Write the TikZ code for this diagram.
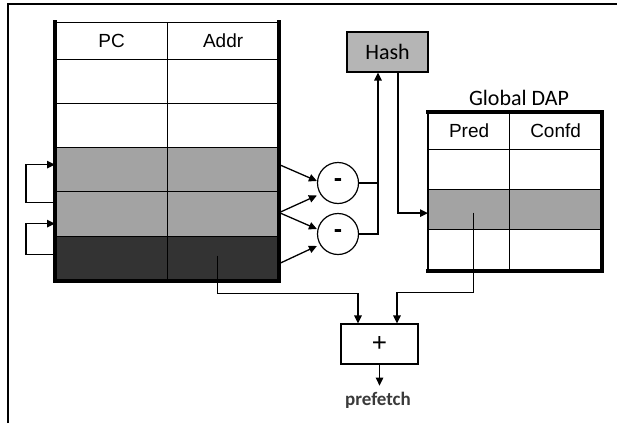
\documentclass[tikz,border=0pt]{standalone}
\usepackage{fontspec}
\setmainfont{Liberation Sans}
\newfontfamily\calfont{Carlito}
\usetikzlibrary{arrows.meta,calc}
\definecolor{rowlight}{HTML}{A3A3A3}
\definecolor{rowdark}{HTML}{333333}
\definecolor{hashfill}{HTML}{B5B5B5}
\definecolor{labelgray}{HTML}{3A3A3A}

\begin{document}
\begin{tikzpicture}[x=1pt,y=-1pt,
  cell/.style={draw, line width=1.2pt, inner sep=0pt, anchor=north west,
    font=\fontsize{19}{22}\selectfont},
  lw/.style={minimum width=112pt},
  rw/.style={minimum width=111pt},
  hd/.style={minimum height=37pt},
  rh/.style={minimum height=44pt},
  light/.style={fill=rowlight},
  dark/.style={fill=rowdark},
  border/.style={line width=3.5pt, line cap=rect},
  sub/.style={circle, draw, line width=1.2pt, minimum size=41pt, inner sep=0pt,
    font=\fontsize{25}{26}\selectfont\bfseries},
  wire/.style={line width=1.3pt},
  arr/.style={wire, -{Triangle[length=8pt,width=7.5pt]}},
]
\useasboundingbox (0,0) rectangle (617,423);

% frame edges
\draw[line width=2.5pt] (8,423) -- (8,4) -- (617,4);

% per-entry history table
\node[cell,lw,hd] (L01) at (55,22) {PC};
\node[cell,rw,hd] (L02) at (167,22) {Addr};
\node[cell,lw,rh] (L11) at (55,59) {};
\node[cell,rw,rh] (L12) at (167,59) {};
\node[cell,lw,rh] (L21) at (55,103) {};
\node[cell,rw,rh] (L22) at (167,103) {};
\node[cell,lw,rh,light] (L31) at (55,147) {};
\node[cell,rw,rh,light] (L32) at (167,147) {};
\node[cell,lw,minimum height=45pt,light] (L41) at (55,191) {};
\node[cell,rw,minimum height=45pt,light] (L42) at (167,191) {};
\node[cell,lw,rh,dark] (L51) at (55,236) {};
\node[cell,rw,rh,dark] (L52) at (167,236) {};
\draw[border] (L01.north west) -- (L51.south west) -- (L52.south east) -- (L02.north east);

% feedback loops on the left
\draw[arr] ([yshift=11.5pt]L41.west) -- ++(-29,0) |- ([yshift=5pt]L31.west);
\draw[arr] ([yshift=4pt]L51.west) -- ++(-29,0) |- ([yshift=-9.5pt]L41.west);

% subtractors
\node[sub] (C1) at (338,183) {-};
\node[sub] (C2) at (338,234) {-};
\draw[arr] ([yshift=5pt]L32.east) -- ([yshift=2pt]C1.west);
\draw[arr] ([yshift=1.5pt]L42.east) -- ([yshift=-12.5pt]C1.west);
\draw[arr] ([yshift=1.5pt]L42.east) -- ([yshift=5pt]C2.west);
\draw[arr] ([yshift=-5pt]L52.east) -- ([yshift=-12pt]C2.west);

% hash unit
\node[draw, line width=1.2pt, fill=hashfill, minimum width=81pt, minimum height=40pt,
  inner sep=0pt, font=\calfont\fontsize{22}{24}\selectfont] (H) at (387.5,52) {Hash};
\coordinate (Hin) at ([xshift=-9.5pt]H.south);
\draw[wire] (C1.east) -- (C1.east -| Hin);
\draw[arr] (C2.east) -| (Hin);

% global DAP table
\node[font=\calfont\fontsize{22}{24}\selectfont] (GT) at (519,98) {Global DAP};
\node[cell,minimum width=81pt,hd] (D01) at (428,112) {Pred};
\node[cell,minimum width=92pt,hd] (D02) at (509,112) {Confd};
\node[cell,minimum width=81pt,minimum height=40pt] (D11) at (428,149) {};
\node[cell,minimum width=92pt,minimum height=40pt] (D12) at (509,149) {};
\node[cell,minimum width=81pt,minimum height=40pt,light] (D21) at (428,189) {};
\node[cell,minimum width=92pt,minimum height=40pt,light] (D22) at (509,189) {};
\node[cell,minimum width=81pt,minimum height=41pt] (D31) at (428,229) {};
\node[cell,minimum width=92pt,minimum height=41pt] (D32) at (509,229) {};
\draw[border] (D01.north west) -- (D02.north east) -- (D32.south east) -- (D31.south west);
\draw[line width=2pt] (D01.north west) -- (D31.south west);

\draw[arr] ([xshift=10.5pt]H.south) |- ([yshift=-3.5pt]D21.west);

% adder
\node[draw, line width=1.2pt, minimum width=77pt, minimum height=40pt, inner sep=0pt,
  font=\fontsize{26}{28}\selectfont] (P) at (379.5,344) {+};
\draw[arr] ([xshift=-5.5pt,yshift=3pt]L52.center) |- ++(0,38) -| ([xshift=-21.5pt]P.north);
\draw[arr] ([xshift=4.5pt,yshift=-3pt]D21.center) -- ++(0,80) -| ([xshift=17.5pt]P.north);

% output
\node[font=\calfont\bfseries\fontsize{19}{22}\selectfont, text=labelgray] (OUT) at (378,400) {prefetch};
\draw[arr] (P.south) -- ++(0,21);
\end{tikzpicture}
\end{document}
